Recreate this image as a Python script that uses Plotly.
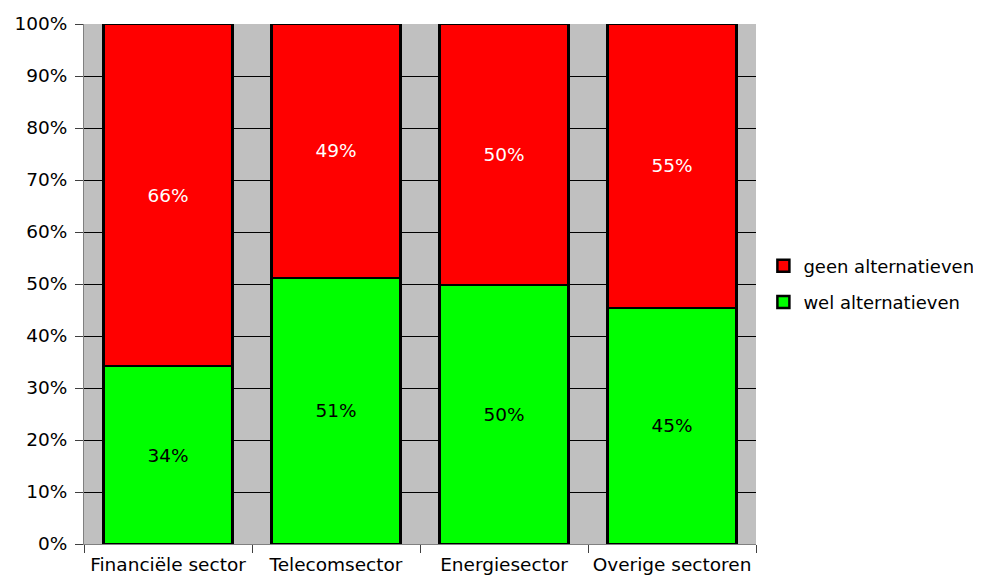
import plotly.graph_objects as go

categories = ["Financiële sector", "Telecomsector", "Energiesector", "Overige sectoren"]
wel = [34.2, 51.2, 49.8, 45.4]
geen = [65.8, 48.8, 50.2, 54.6]
y_ticks = list(range(0, 101, 10))
y_tick_text = [f"{v}%" for v in y_ticks]

FONT = "DejaVu Sans"
FS = 18.5

fig = go.Figure()
fig.add_trace(go.Bar(
    x=categories, y=wel, name="wel alternatieven",
    marker=dict(color="#00FF00", line=dict(color="black", width=2.5)),
    texttemplate="%{y:.0f}%", textposition="inside", insidetextanchor="middle",
    textfont=dict(color="black", size=FS, family=FONT),
    legendgroup="a", legendrank=2,
))
fig.add_trace(go.Bar(
    x=categories, y=geen, name="geen alternatieven",
    marker=dict(color="#FF0000", line=dict(color="black", width=2.5)),
    texttemplate="%{y:.0f}%", textposition="inside", insidetextanchor="middle",
    textfont=dict(color="white", size=FS, family=FONT),
    legendgroup="b", legendrank=1,
))

fig.update_layout(
    barmode="stack",
    bargap=0.23,
    width=995, height=579,
    margin=dict(l=76, r=247, t=16, b=43, autoexpand=False),
    paper_bgcolor="white",
    plot_bgcolor="#C0C0C0",
    font=dict(family=FONT, size=FS, color="black"),
    uniformtext=dict(mode="show", minsize=FS),
    showlegend=True,
    legend=dict(
        x=1.011, y=0.5, xanchor="left", yanchor="middle",
        traceorder="grouped", tracegroupgap=10,
        font=dict(size=18, family=FONT),
        itemwidth=30,
    ),
    xaxis=dict(
        type="category", tickson="boundaries", ticks="outside", ticklen=8,
        tickcolor="#404040", showline=True, linecolor="#808080", linewidth=1,
        showgrid=False, tickfont=dict(size=FS), ticklabelstandoff=4,
        tickangle=0, automargin=False,
    ),
    yaxis=dict(
        range=[0, 100], tickvals=y_ticks, ticktext=y_tick_text,
        ticks="outside", ticklen=8, tickcolor="#404040",
        showgrid=True, gridcolor="#000000", gridwidth=1,
        showline=True, linecolor="#808080", linewidth=1,
        zeroline=False, tickfont=dict(size=FS), ticklabelstandoff=4,
        automargin=False,
    ),
)

fig.write_html("out.html")
